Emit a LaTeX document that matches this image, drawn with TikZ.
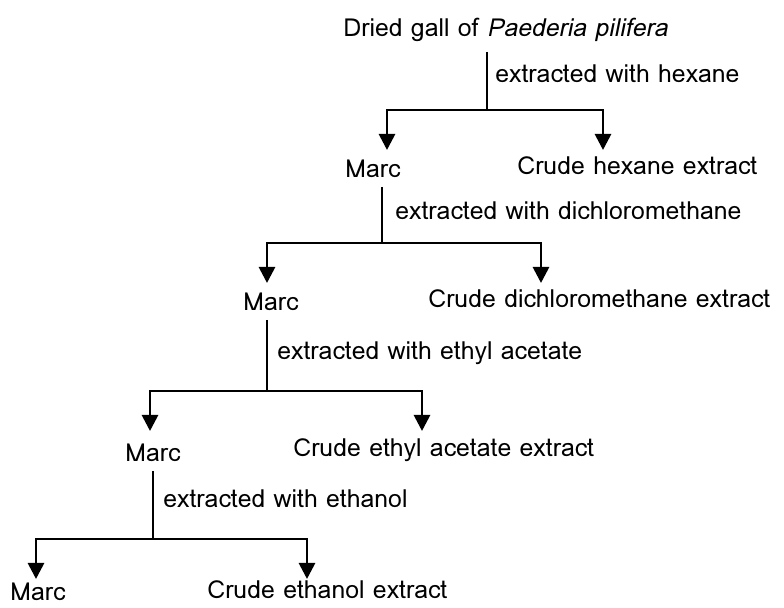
\documentclass[tikz,border=0pt]{standalone}
\usepackage{fontspec}
\setmainfont{Loma}[AutoFakeSlant=0.2]
\usetikzlibrary{arrows.meta}
\begin{document}
\begin{tikzpicture}[x=0.5pt, y=-0.5pt,
	txt/.style={anchor=base west, inner sep=0pt, font=\fontsize{12.4}{14}\selectfont},
	flow/.style={line width=1.4pt},
	down/.style={flow, -{Triangle[width=8pt,length=8pt]}}]
	\useasboundingbox (0,0) rectangle (784,608);
	% stage 1: hexane
	\node[txt] (dried) at (343,37) {Dried gall of \textit{Paederia pilifera}};
	\node[txt] (ex1) at (495,83) {extracted with hexane};
	\node[txt] (marc1) at (345,178) {Marc};
	\node[txt] (crude1) at (517,175) {Crude hexane extract};
	\coordinate (t1) at (487,110);
	\coordinate (l1) at (387,150);
	\coordinate (r1) at (603,150);
	\draw[flow] (t1 |- dried.base) ++(0,15) -- (t1);
	\draw[down] (t1) -| (l1);
	\draw[down] (t1) -| (r1);
	% stage 2: dichloromethane
	\node[txt] (ex2) at (395,220) {extracted with dichloromethane};
	\node[txt] (marc2) at (243,311) {Marc};
	\node[txt] (crude2) at (428,308) {Crude dichloromethane extract};
	\coordinate (t2) at (382,243);
	\coordinate (l2) at (267,283);
	\coordinate (r2) at (541,283);
	\draw[flow] (t2 |- marc1.base) ++(0,9) -- (t2);
	\draw[down] (t2) -| (l2);
	\draw[down] (t2) -| (r2);
	% stage 3: ethyl acetate
	\node[txt] (ex3) at (277,360) {extracted with ethyl acetate};
	\node[txt] (marc3) at (125,462) {Marc};
	\node[txt] (crude3) at (293,457) {Crude ethyl acetate extract};
	\coordinate (t3) at (267,391);
	\coordinate (l3) at (150,431);
	\coordinate (r3) at (422,431);
	\draw[flow] (t3 |- marc2.base) ++(0,9) -- (t3);
	\draw[down] (t3) -| (l3);
	\draw[down] (t3) -| (r3);
	% stage 4: ethanol
	\node[txt] (ex4) at (163,508) {extracted with ethanol};
	\node[txt] (marc4) at (10,601) {Marc};
	\node[txt] (crude4) at (207,599) {Crude ethanol extract};
	\coordinate (t4) at (153,539);
	\coordinate (l4) at (36,579);
	\coordinate (r4) at (307,579);
	\draw[flow] (t4 |- marc3.base) ++(0,9) -- (t4);
	\draw[down] (t4) -| (l4);
	\draw[down] (t4) -| (r4);
\end{tikzpicture}
\end{document}
